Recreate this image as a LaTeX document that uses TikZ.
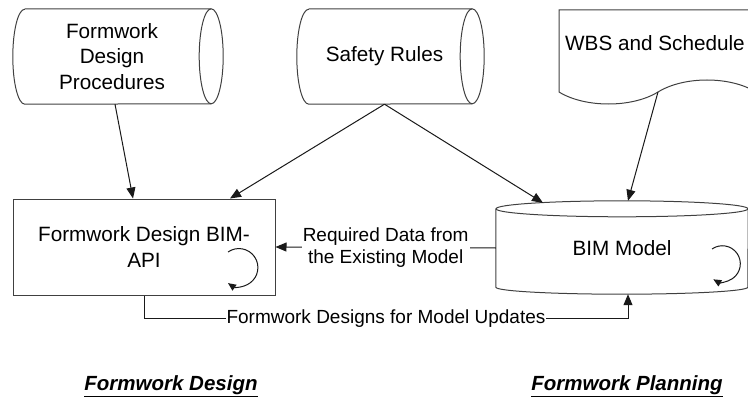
\documentclass[tikz,border=0pt]{standalone}
\usepackage{fontspec}
\setmainfont{Liberation Sans}
\usetikzlibrary{arrows.meta}

\tikzset{
  shapeline/.style={draw=black!75, line width=1pt},
  boxtext/.style={inner sep=0pt, align=center, font=\fontsize{20.7}{25.5}\selectfont},
  flow/.style={-{Triangle[length=11pt,width=9pt]}, line width=1pt, black!90},
  loop/.style={-{Triangle[length=8pt,width=7pt]}, line width=1pt, black!90},
  edgelabel/.style={fill=white, inner xsep=1pt, inner ysep=2pt, align=center,
    text=black, font=\fontsize{19}{22}\selectfont},
  phase/.style={font=\fontsize{20.5}{24}\selectfont\bfseries\itshape},
}

\begin{document}
\begin{tikzpicture}[x=1pt, y=1pt]
    \useasboundingbox (0,0) rectangle (748,400);
    \clip (0,0) rectangle (748,400);

    % stored data inputs
    \node[boxtext, minimum width=198pt, minimum height=95pt] (proc) at (112,343.5) {Formwork\\Design\\Procedures};
    \node[boxtext, minimum width=175pt, minimum height=95pt] (rules) at (384.5,343.5) {Safety Rules};
    \foreach \n in {proc,rules} {
        \draw[shapeline] ([xshift=12]\n.north west) -- (\n.north east)
            arc[start angle=90, end angle=-90, x radius=12, y radius=47.5]
            -- ([xshift=12]\n.south west)
            arc[start angle=270, end angle=90, x radius=12, y radius=47.5];
        \draw[shapeline] (\n.north east) arc[start angle=90, end angle=270, x radius=12, y radius=47.5];
    }

    % document with wavy bottom
    \node[boxtext, anchor=west] (wbs) at (565,357) {WBS and Schedule};
    \draw[shapeline] (756,308) -- (756,390) -- (559,390) -- (559,308)
        .. controls (585,292) and (632,292) .. (658,308) coordinate (wbs-out)
        .. controls (684,324) and (730,324) .. (756,308);

    % design tool
    \node[boxtext, shapeline, minimum width=262pt, minimum height=96pt] (api) at (144,153) {Formwork Design BIM-\\API};
    \draw[loop] ([xshift=84,yshift=-5]api.center) arc[start angle=125, end angle=-125, radius=19];

    % model database
    \node[boxtext, minimum width=252pt, minimum height=78pt] (bim) at (622,152) {BIM Model};
    \draw[shapeline] (bim.north west) -- (bim.south west)
        arc[start angle=180, end angle=360, x radius=126, y radius=7] -- (bim.north east);
    \draw[shapeline] (bim.north) ellipse[x radius=126, y radius=8];
    \draw[loop] ([xshift=90,yshift=-1]bim.center) arc[start angle=125, end angle=-120, radius=18];

    % data flows
    \draw[flow] ([xshift=3]proc.south) -- ([xshift=-11]api.north);
    \draw[flow] (rules.south) -- ([xshift=86]api.north);
    \draw[flow] (rules.south) -- ([xshift=-79,yshift=6]bim.north);
    \draw[flow] (wbs-out) -- ([xshift=6,yshift=8]bim.north);
    \draw[flow] (bim.west) -- (api.east)
        node[midway, edgelabel] {Required Data from\\the Existing Model};
    \draw[flow] (api.south) -- ++(0,-23) -| ([xshift=6,yshift=-7]bim.south)
        node[pos=0.25, edgelabel] {Formwork Designs for Model Updates};

    \node[phase] (design) at (171,14) {\underline{Formwork Design}};
    \node[phase] (planning) at (627,14) {\underline{Formwork Planning}};
\end{tikzpicture}
\end{document}
